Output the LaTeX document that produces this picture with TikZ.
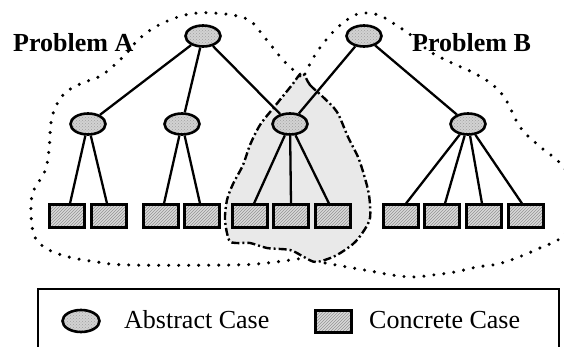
\documentclass[tikz,border=0pt]{standalone}
\usepackage{fontspec}
\setmainfont{Liberation Serif}
\usetikzlibrary{patterns,shapes.geometric}
\begin{document}
\begin{tikzpicture}[x=1pt, y=-1pt,
    abstract/.style={ellipse, draw, line width=2.6pt, preaction={fill=gray!35},
        pattern=crosshatch dots, pattern color=gray!75,
        minimum width=35pt, minimum height=21pt, inner sep=0pt},
    concrete/.style={rectangle, draw, line width=3pt, preaction={fill=gray!30},
        pattern=north east lines, pattern color=gray!85,
        minimum width=35pt, minimum height=22pt, inner sep=0pt},
    link/.style={line width=2.3pt},
    region/.style={line width=3.4pt, line cap=round, dash pattern=on 0pt off 10pt},
    overlap/.style={line width=2.4pt, fill=gray!17,
        dash pattern=on 8pt off 3pt on 2pt off 3pt},
    label/.style={font=\fontsize{26}{30}\selectfont, inner sep=0pt}]
    \useasboundingbox (0,0) rectangle (564,347);
    % shared part of both problems
    \draw[overlap] plot[smooth cycle, tension=0.5] coordinates {(302,73) (310,85) (323,97)
        (337,112) (348,137) (358,157) (364,175) (369,195) (370,218) (363,232) (353,244)
        (335,256) (316,262) (304,257) (290,250) (267,248) (250,243) (236,243) (229,240)
        (225,220) (227,200) (233,184) (243,165) (250,145) (260,125) (275,106) (292,85)};
    % problem A
    \draw[region] plot[smooth, tension=0.6] coordinates {(300,76) (283,60) (265,38)
        (247,19) (213,13) (185,15) (157,26) (138,40) (125,55) (102,75) (80,84) (63,95)
        (52,117) (49,150) (45,171) (33,192) (31,213) (34,235) (44,247) (65,256) (97,262)
        (130,265) (230,265) (267,263) (304,258)};
    % problem B
    \draw[region] plot[smooth, tension=0.6] coordinates {(305,74) (312,60) (322,45)
        (338,27) (355,15) (367,13) (381,16) (399,27) (412,36) (429,51) (452,63) (474,73)
        (493,85) (506,100) (520,127) (538,145) (560,163) (574,185) (576,215) (562,237)
        (540,248) (519,257) (498,264) (477,267) (455,272) (433,275) (413,277) (392,275)
        (370,271) (347,267) (320,262)};
    \node[label, font=\fontsize{26}{30}\selectfont\bfseries, anchor=base west] (probA) at (13,52) {Problem A};
    \node[label, font=\fontsize{26}{30}\selectfont\bfseries, anchor=base west] (probB) at (412,52) {Problem B};
    % abstract cases
    \node[abstract] (rootA) at (203,36) {};
    \node[abstract] (rootB) at (364,36) {};
    \node[abstract] (midA1) at (88,124) {};
    \node[abstract] (midA2) at (182,124) {};
    \node[abstract] (midAB) at (290,124) {};
    \node[abstract] (midB) at (468,124) {};
    % concrete cases
    \node[concrete] (a1) at (67,216) {};
    \node[concrete] (a2) at (109,216) {};
    \node[concrete] (a3) at (161,216) {};
    \node[concrete] (a4) at (202,216) {};
    \node[concrete] (c1) at (250,216) {};
    \node[concrete] (c2) at (291,216) {};
    \node[concrete] (c3) at (333,216) {};
    \node[concrete] (b1) at (401,216) {};
    \node[concrete] (b2) at (442,216) {};
    \node[concrete] (b3) at (484,216) {};
    \node[concrete] (b4) at (526,216) {};
    \draw[link] (rootA) -- (midA1);
    \draw[link] (rootA) -- (midA2);
    \draw[link] (rootA) -- (midAB);
    \draw[link] (rootB) -- (midAB);
    \draw[link] (rootB) -- (midB);
    \draw[link] (midA1) -- ([xshift=3pt]a1.north);
    \draw[link] (midA1) -- ([xshift=-2pt]a2.north);
    \draw[link] (midA2) -- ([xshift=3pt]a3.north);
    \draw[link] (midA2) -- ([xshift=-2pt]a4.north);
    \draw[link] (midAB) -- ([xshift=4pt]c1.north);
    \draw[link] (midAB) -- (c2.north);
    \draw[link] (midAB) -- ([xshift=-4pt]c3.north);
    \draw[link] (midB) -- ([xshift=5pt]b1.north);
    \draw[link] (midB) -- ([xshift=3pt]b2.north);
    \draw[link] (midB) -- ([xshift=-2pt]b3.north);
    \draw[link] (midB) -- ([xshift=-4pt]b4.north);
    % legend
    \node[draw, line width=2pt, minimum width=521pt, minimum height=75pt, anchor=north west] (legend) at (37,288) {};
    \node[abstract, minimum width=37pt, minimum height=22pt] (keyA) at (81,321) {};
    \node[label, anchor=base west] (keyAtext) at (124,328) {Abstract Case};
    \node[concrete, minimum width=36pt] (keyC) at (333,321) {};
    \node[label, anchor=base west] (keyCtext) at (369,328) {Concrete Case};
\end{tikzpicture}
\end{document}
